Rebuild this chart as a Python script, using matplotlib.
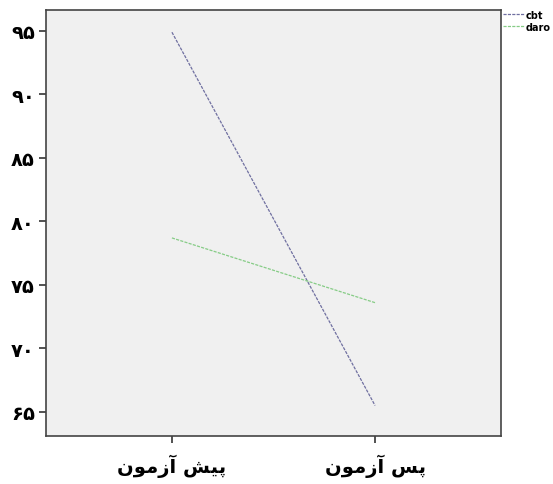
#! /usr/bin/env python3

import numpy as np
import matplotlib
matplotlib.use('Agg')
import matplotlib.pyplot as plt

# data
groups = ['pre', 'post']
cbt = [94.9, 65.5]
daro = [78.7, 73.6]
yticks = [65, 70, 75, 80, 85, 90, 95]
# persian digits
ytick_labels = ['\u06f6\u06f5', '\u06f7\u06f0', '\u06f7\u06f5', '\u06f8\u06f0',
                '\u06f8\u06f5', '\u06f9\u06f0', '\u06f9\u06f5']
# "pish azmun" / "pas azmun", written in presentation forms, visual order
xtick_labels = ['\ufee5\ufeee\ufee3\ufeaf\ufe81 \ufeb6\ufbff\ufb58',
                '\ufee5\ufeee\ufee3\ufeaf\ufe81 \ufeb2\ufb58']

def main():
	fig = plt.figure(figsize=(5.53, 4.85), dpi=100)
	ax = fig.add_axes([46/553, 1-437/485, 455/553, 426/485])
	ax.set_facecolor('#f0f0f0')

	x = np.arange(len(groups))
	ax.plot(x, cbt, color='#6f6fa0', lw=0.9, ls=(0, (2.5, 1)), label='cbt')
	ax.plot(x, daro, color='#86cc86', lw=0.9, ls=(0, (2.5, 1)), label='daro')

	ax.set_xlim(-0.62, 1.62)
	ax.set_ylim(63.1, 96.65)
	ax.set_yticks(yticks)
	ax.set_yticklabels(ytick_labels, fontsize=14, fontweight='bold')
	ax.set_xticks(x)
	ax.set_xticklabels(xtick_labels, fontsize=14, fontweight='bold')
	ax.tick_params(axis='both', direction='out', length=5, width=1.2, colors='#333333')
	ax.tick_params(axis='y', pad=3, labelcolor='black')
	ax.tick_params(axis='x', pad=8, labelcolor='black')
	for s in ax.spines.values():
		s.set_color('#444444')
		s.set_linewidth(1.2)

	leg = ax.legend(loc='upper left', bbox_to_anchor=(0.995, 1.01), frameon=False,
	                fontsize=7, handlelength=2.2, handletextpad=0.2,
	                labelspacing=0.2, borderaxespad=0)
	for t in leg.get_texts():
		t.set_fontweight('bold')

	fig.savefig('out.png', dpi=100)

if __name__ == "__main__":
	main()
